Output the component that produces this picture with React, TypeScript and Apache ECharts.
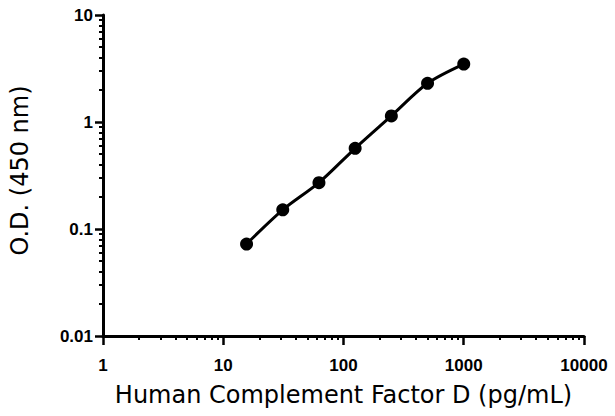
import React, { useEffect, useRef } from "react";
import * as echarts from "echarts";

const concentrations = [15.625, 31.25, 62.5, 125, 250, 500, 1000];
const odValues = [0.0724, 0.151, 0.271, 0.568, 1.14, 2.3, 3.48];
const xMinorTicks = [2, 3, 4, 5, 6, 7, 8, 9, 20, 30, 40, 50, 60, 70, 80, 90, 200, 300, 400, 500, 600, 700, 800, 900, 2000, 3000, 4000, 5000, 6000, 7000, 8000, 9000];
const yMinorTicks = [0.02, 0.03, 0.04, 0.05, 0.06, 0.07, 0.08, 0.09, 0.2, 0.3, 0.4, 0.5, 0.6, 0.7, 0.8, 0.9, 2, 3, 4, 5, 6, 7, 8, 9];
const xTitle = "Human Complement Factor D (pg/mL)";
const yTitle = "O.D. (450 nm)";

const titleFont = "DejaVu Sans";
const tickFont = "Liberation Sans";

export default function App() {
  const ref = useRef<HTMLDivElement>(null);
  useEffect(() => {
    if (!ref.current) return;
    const chart = echarts.init(ref.current, null, { renderer: "svg" });
    const fmt = (v: number) => String(+Number(v).toPrecision(3));
    const axisLineStyle = { color: "#000", width: 3 };
    chart.setOption({
      animation: false,
      grid: { left: 103, right: 31, top: 15, bottom: 80, containLabel: false },
      xAxis: [
        {
          type: "log",
          logBase: 10,
          min: 1,
          max: 10000,
          position: "bottom",
          name: xTitle,
          nameLocation: "middle",
          nameGap: 47,
          nameTextStyle: { fontFamily: titleFont, fontSize: 24, color: "#000" },
          axisLine: { show: true, lineStyle: axisLineStyle },
          axisTick: { show: true, length: 9, lineStyle: { color: "#000", width: 2.5 } },
          axisLabel: { show: true, margin: 21, formatter: fmt, fontFamily: tickFont, fontWeight: "bold", fontSize: 17, color: "#000" },
          splitLine: { show: false },
          minorTick: { show: false },
        },
        {
          type: "log",
          logBase: 10,
          min: 1,
          max: 10000,
          position: "bottom",
          gridIndex: 0,
          axisLine: { show: false },
          axisTick: { show: true, length: 4, customValues: xMinorTicks, lineStyle: { color: "#000", width: 2 } },
          axisLabel: { show: false },
          splitLine: { show: false },
        },
      ],
      yAxis: [
        {
          type: "log",
          logBase: 10,
          min: 0.01,
          max: 10,
          position: "left",
          name: yTitle,
          nameLocation: "middle",
          nameGap: 71,
          nameRotate: 90,
          nameTextStyle: { fontFamily: titleFont, fontSize: 24, color: "#000", padding: [0, 0, 0, 10] },
          axisLine: { show: true, lineStyle: axisLineStyle },
          axisTick: { show: true, length: 8, lineStyle: { color: "#000", width: 2.5 } },
          axisLabel: { show: true, margin: 10, formatter: fmt, fontFamily: tickFont, fontWeight: "bold", fontSize: 17, color: "#000" },
          splitLine: { show: false },
        },
        {
          type: "log",
          logBase: 10,
          min: 0.01,
          max: 10,
          position: "left",
          offset: 0,
          gridIndex: 0,
          axisLine: { show: false },
          axisTick: { show: true, length: 4, customValues: yMinorTicks, lineStyle: { color: "#000", width: 2 } },
          axisLabel: { show: false },
          splitLine: { show: false },
        },
      ],
      series: [
        {
          type: "line",
          xAxisIndex: 0,
          yAxisIndex: 0,
          data: concentrations.map((c, i) => [c, odValues[i]]),
          smooth: 0.3,
          symbol: "circle",
          symbolSize: 13,
          lineStyle: { color: "#000", width: 3 },
          itemStyle: { color: "#000" },
        },
      ],
    });
    return () => chart.dispose();
  }, []);
  return (
    <div
      ref={ref}
      style={{ position: "absolute", left: 0, top: 0, width: 615, height: 416, background: "#fff" }}
    />
  );
}
